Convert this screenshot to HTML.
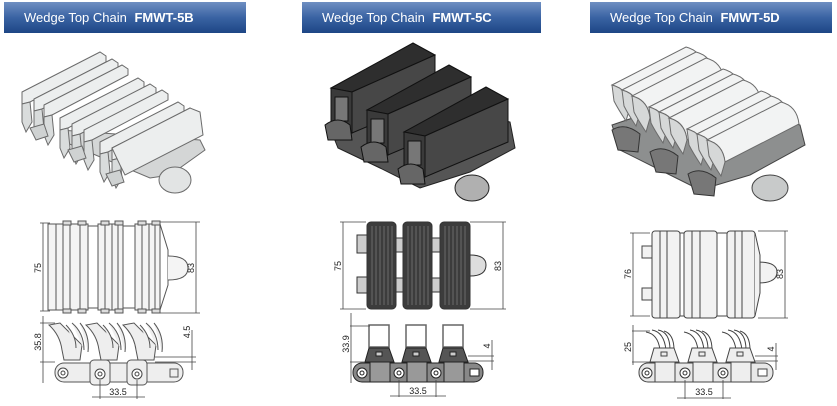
<!DOCTYPE html>
<html><head><meta charset="utf-8"><style>
html,body{margin:0;padding:0;background:#fff;}
svg{display:block;}
text{font-family:"Liberation Sans",sans-serif;}
</style></head><body>
<svg width="837" height="406" viewBox="0 0 837 406" xmlns="http://www.w3.org/2000/svg">
<defs>
<linearGradient id="hb" x1="0" y1="0" x2="0" y2="1">
<stop offset="0" stop-color="#6f8fc2"/><stop offset="0.5" stop-color="#3a63a3"/><stop offset="1" stop-color="#1d4685"/>
</linearGradient>
<g id="blade">
<polygon points="0,0 78,-40 84,-36 84,-30 8,10 0,12" fill="#eceeee" stroke="#6b6b6b" stroke-width="1"/>
<polygon points="0,12 8,10 10,30 4,40 0,30" fill="#d9dcdc" stroke="#6b6b6b" stroke-width="1"/>
</g>
<g id="rblade">
<path d="M0,6 L74,-32 Q90,-28 92,-10 L18,28 Q16,10 0,6Z" fill="#f2f3f3" stroke="#6b6b6b" stroke-width="1"/>
<path d="M0,6 Q16,10 18,28 L14,42 Q6,30 2,22Z" fill="#d6d8d8" stroke="#6b6b6b" stroke-width="1"/>
</g>
</defs>

<rect x="4" y="2" width="242" height="31" fill="url(#hb)"/>
<text x="24" y="22" font-size="13" fill="#fff">Wedge Top Chain <tspan font-weight="bold" dx="4">FMWT-5B</tspan></text>
<rect x="302" y="2" width="239" height="31" fill="url(#hb)"/>
<text x="322" y="22" font-size="13" fill="#fff">Wedge Top Chain <tspan font-weight="bold" dx="4">FMWT-5C</tspan></text>
<rect x="590" y="2" width="242" height="31" fill="url(#hb)"/>
<text x="610" y="22" font-size="13" fill="#fff">Wedge Top Chain <tspan font-weight="bold" dx="4">FMWT-5D</tspan></text>

<!-- Panel 1 iso -->
<g stroke="#6b6b6b" fill="#d4d6d6">
<polygon points="60,130 200,140 205,150 170,175 150,178 60,140"/>
<ellipse cx="175" cy="180" rx="16" ry="13" fill="#e2e4e4"/>
</g>
<use href="#blade" x="22" y="92"/>
<use href="#blade" x="34" y="99"/>
<use href="#blade" x="44" y="105"/>
<use href="#blade" x="60" y="118"/>
<use href="#blade" x="72" y="124"/>
<use href="#blade" x="84" y="130"/>
<use href="#blade" x="100" y="142"/>
<use href="#blade" x="112" y="148"/>
<polygon points="112,148 190,108 200,112 203,135 125,175 120,165" fill="#eceeee" stroke="#6b6b6b"/>
<g fill="#cfd2d2" stroke="#6b6b6b">
<polygon points="30,128 44,124 48,136 36,140"/>
<polygon points="68,150 82,146 86,158 74,162"/>
<polygon points="106,174 120,170 124,182 112,186"/>
</g>

<!-- Panel 2 iso -->
<g stroke="#222" fill="#555">
<polygon points="330,128 420,100 510,122 515,148 470,172 420,188 380,168 338,148"/>
<ellipse cx="472" cy="188" rx="17" ry="13" fill="#b0b0b0"/>
</g>
<g id="blk">
<polygon points="331,88 413,43 435,55 352,92" fill="#2e2e2e" stroke="#111"/>
<polygon points="352,92 435,55 435,98 352,133" fill="#474747" stroke="#111"/>
<polygon points="331,88 352,92 352,133 331,125" fill="#3a3a3a" stroke="#111"/>
<rect x="335" y="97" width="13" height="24" fill="#777" stroke="#111"/>
<path d="M325,125 Q338,115 350,125 L352,140 L328,140Z" fill="#666" stroke="#111"/>
</g>
<use href="#blk" x="36" y="22"/>
<use href="#blk" x="73" y="44"/>

<!-- Panel 3 iso -->
<g stroke="#444" fill="#8d8f8f">
<polygon points="612,125 700,95 800,125 805,145 750,175 700,190 660,170 620,150"/>
<ellipse cx="770" cy="188" rx="18" ry="13" fill="#c8caca"/>
</g>
<use href="#rblade" x="612" y="79"/>
<use href="#rblade" x="622" y="84"/>
<use href="#rblade" x="632" y="90"/>
<use href="#rblade" x="649" y="101"/>
<use href="#rblade" x="659" y="106"/>
<use href="#rblade" x="669" y="112"/>
<use href="#rblade" x="687" y="123"/>
<use href="#rblade" x="697" y="128"/>
<use href="#rblade" x="707" y="134"/>
<g fill="#777" stroke="#333">
<path d="M612,130 Q625,122 640,134 L638,152 L618,150Z"/>
<path d="M650,152 Q663,144 678,156 L676,174 L656,172Z"/>
<path d="M688,174 Q701,166 716,178 L714,196 L694,194Z"/>
</g>

<!-- top views -->
<g stroke="#555" stroke-width="1" fill="none">
<rect x="48" y="224" width="40" height="86" fill="#f4f4f4"/>
<rect x="98" y="224" width="25" height="86" fill="#f4f4f4"/>
<rect x="135" y="224" width="25" height="86" fill="#f4f4f4"/>
<path d="M88,226 H98 M88,308 H98 M123,226 H135 M123,308 H135"/>
<path d="M160,224 L168,250 V285 L160,310"/>
<path d="M168,256 Q188,256 188,268 Q188,280 168,280" fill="#f4f4f4"/>
<path d="M56,224 V310 M63,224 V310 M70,224 V310 M80,224 V310 M105,224 V310 M112,224 V310 M118,224 V310 M142,224 V310 M149,224 V310 M155,224 V310"/>
<rect x="63" y="221" width="8" height="4" fill="#ddd"/><rect x="78" y="221" width="8" height="4" fill="#ddd"/>
<rect x="101" y="221" width="8" height="4" fill="#ddd"/><rect x="115" y="221" width="8" height="4" fill="#ddd"/>
<rect x="138" y="221" width="8" height="4" fill="#ddd"/><rect x="152" y="221" width="8" height="4" fill="#ddd"/>
<rect x="63" y="309" width="8" height="4" fill="#ddd"/><rect x="78" y="309" width="8" height="4" fill="#ddd"/>
<rect x="101" y="309" width="8" height="4" fill="#ddd"/><rect x="115" y="309" width="8" height="4" fill="#ddd"/>
<rect x="138" y="309" width="8" height="4" fill="#ddd"/><rect x="152" y="309" width="8" height="4" fill="#ddd"/>
</g>
<g stroke="#444" stroke-width="0.8" fill="none">
<path d="M43,223 V311 M40,223 H50 M40,311 H50"/>
<path d="M196,222 V313 M160,222 H200 M160,313 H200"/>
</g>
<text transform="translate(41,268) rotate(-90)" font-size="9" fill="#222" text-anchor="middle">75</text>
<text transform="translate(194,268) rotate(-90)" font-size="9" fill="#222" text-anchor="middle">83</text>

<g stroke="#333" stroke-width="1">
<rect x="357" y="235" width="10" height="18" fill="#ccc"/><rect x="357" y="277" width="10" height="16" fill="#ccc"/>
<rect x="396" y="238" width="8" height="14" fill="#ccc"/><rect x="396" y="278" width="8" height="14" fill="#ccc"/>
<rect x="432" y="238" width="8" height="14" fill="#ccc"/><rect x="432" y="278" width="8" height="14" fill="#ccc"/>
<path d="M470,255 Q486,255 486,265 Q486,276 470,276" fill="#ddd"/>
<rect x="367" y="222" width="29" height="87" rx="4" fill="#3c3c3c"/>
<rect x="403" y="222" width="29" height="87" rx="4" fill="#3c3c3c"/>
<rect x="440" y="222" width="30" height="87" rx="4" fill="#3c3c3c"/>
</g>
<g stroke="#777" stroke-width="0.8">
<path d="M372,226 V305 M376,226 V305 M380,226 V305 M384,226 V305 M388,226 V305 M392,226 V305"/>
<path d="M408,226 V305 M412,226 V305 M416,226 V305 M420,226 V305 M424,226 V305 M428,226 V305"/>
<path d="M445,226 V305 M449,226 V305 M453,226 V305 M457,226 V305 M461,226 V305 M465,226 V305"/>
</g>
<g stroke="#444" stroke-width="0.8" fill="none">
<path d="M343,222 V309 M340,222 H366 M340,309 H366"/>
<path d="M503,222 V309 M470,222 H506 M470,309 H506"/>
</g>
<text transform="translate(341,266) rotate(-90)" font-size="9" fill="#222" text-anchor="middle">75</text>
<text transform="translate(501,266) rotate(-90)" font-size="9" fill="#222" text-anchor="middle">83</text>

<g stroke="#444" stroke-width="1" fill="#f2f2f2">
<rect x="642" y="246" width="10" height="12"/><rect x="642" y="288" width="10" height="12"/>
<path d="M758,262 Q777,262 777,272 Q777,283 758,283"/>
<rect x="652" y="231" width="28" height="87" rx="3"/>
<rect x="684" y="231" width="33" height="87" rx="3"/>
<rect x="727" y="231" width="28" height="87" rx="3"/>
<path d="M755,233 L760,255 V293 L755,316"/>
<path d="M660,231 V318 M667,231 V318 M692,231 V318 M700,231 V318 M735,231 V318 M742,231 V318"/>
<path d="M680,233 H684 M680,316 H684 M717,233 H727 M717,316 H727" fill="none"/>
</g>
<g stroke="#444" stroke-width="0.8" fill="none">
<path d="M633,233 V316 M630,233 H650 M630,316 H650"/>
<path d="M785,231 V318 M758,231 H788 M758,318 H788"/>
</g>
<text transform="translate(631,274) rotate(-90)" font-size="9" fill="#222" text-anchor="middle">76</text>
<text transform="translate(783,274) rotate(-90)" font-size="9" fill="#222" text-anchor="middle">83</text>

<!-- side views -->
<g stroke="#555" stroke-width="1" fill="#eee">
<path d="M49,325 Q60,335 62,350 L64,360 H80 L82,345 Q72,335 60,323Z"/>
<path d="M66,325 Q76,335 76,348 M72,323 Q84,333 84,350 M80,323 Q90,335 88,352"/>
<path d="M86,325 Q97,335 99,350 L101,360 H117 L119,345 Q109,335 97,323Z"/>
<path d="M103,325 Q113,335 113,348 M109,323 Q121,333 121,350 M117,323 Q127,335 125,352"/>
<path d="M123,325 Q134,335 136,350 L138,360 H154 L156,345 Q146,335 134,323Z"/>
<path d="M140,325 Q150,335 150,348 M146,323 Q158,333 158,350 M154,323 Q164,335 162,352"/>
<rect x="55" y="363" width="128" height="19" rx="9"/>
<rect x="90" y="360" width="20" height="25" rx="4"/><rect x="127" y="360" width="20" height="25" rx="4"/>
<rect x="170" y="369" width="8" height="8"/>
</g>
<g stroke="#444" fill="#fff"><circle cx="63" cy="373" r="5"/><circle cx="100" cy="374" r="5"/><circle cx="137" cy="374" r="5"/>
<circle cx="63" cy="373" r="2"/><circle cx="100" cy="374" r="2"/><circle cx="137" cy="374" r="2"/></g>
<g stroke="#444" stroke-width="0.8" fill="none">
<path d="M43,316 V383 M40,323 H55 M40,362 H55"/>
<path d="M192,330 V370 M155,357 H196 M155,362 H196"/>
<path d="M100,380 V399 M137,380 V399 M92,397 H145"/>
</g>
<text transform="translate(41,342) rotate(-90)" font-size="9" fill="#222" text-anchor="middle">35.8</text>
<text transform="translate(190,332) rotate(-90)" font-size="9" fill="#222" text-anchor="middle">4.5</text>
<text x="118" y="395" font-size="9" fill="#222" text-anchor="middle">33.5</text>

<g stroke="#222" stroke-width="1">
<rect x="369" y="325" width="20" height="22" fill="none" stroke="#666" stroke-width="1.5"/>
<rect x="406" y="325" width="20" height="22" fill="none" stroke="#666" stroke-width="1.5"/>
<rect x="443" y="325" width="20" height="22" fill="none" stroke="#666" stroke-width="1.5"/>
<rect x="353" y="363" width="130" height="19" rx="9" fill="#888"/>
<path d="M365,362 L369,348 H389 L394,362Z" fill="#555"/>
<path d="M402,362 L406,348 H426 L431,362Z" fill="#555"/>
<path d="M439,362 L443,348 H463 L468,362Z" fill="#555"/>
<rect x="370" y="362" width="20" height="20" fill="#999"/><rect x="407" y="362" width="20" height="20" fill="#999"/><rect x="444" y="362" width="20" height="20" fill="#999"/>
<rect x="470" y="369" width="9" height="7" fill="#fff"/>
<rect x="376" y="352" width="6" height="4" fill="#ccc"/><rect x="413" y="352" width="6" height="4" fill="#ccc"/><rect x="450" y="352" width="6" height="4" fill="#ccc"/>
</g>
<g stroke="#222" fill="#fff"><circle cx="362" cy="373" r="5"/><circle cx="399" cy="373" r="5"/><circle cx="436" cy="373" r="5"/>
<circle cx="362" cy="373" r="2"/><circle cx="399" cy="373" r="2"/><circle cx="436" cy="373" r="2"/></g>
<g stroke="#444" stroke-width="0.8" fill="none">
<path d="M351,313 V383 M350,326 H370 M350,362 H365"/>
<path d="M492,340 V370 M468,356 H494 M468,361 H494"/>
<path d="M399,380 V397 M436,380 V397 M390,396 H446"/>
</g>
<text transform="translate(349,344) rotate(-90)" font-size="9" fill="#222" text-anchor="middle">33.9</text>
<text transform="translate(490,346) rotate(-90)" font-size="9" fill="#222" text-anchor="middle">4</text>
<text x="418" y="394" font-size="9" fill="#222" text-anchor="middle">33.5</text>

<g stroke="#444" stroke-width="1" fill="none">
<path d="M646,332 Q658,334 660,350 M652,330 Q664,332 666,350 M658,330 Q670,332 670,350 M664,331 Q674,334 674,350"/>
<path d="M684,332 Q696,334 698,350 M690,330 Q702,332 704,350 M696,330 Q708,332 708,350 M702,331 Q712,334 712,350"/>
<path d="M722,332 Q734,334 736,350 M728,330 Q740,332 742,350 M734,330 Q746,332 746,350 M740,331 Q750,334 750,350"/>
<rect x="639" y="363" width="134" height="19" rx="9" fill="#e8e8e8"/>
<path d="M650,362 L654,348 H674 L679,362Z" fill="#eee"/>
<path d="M688,362 L692,348 H712 L717,362Z" fill="#eee"/>
<path d="M726,362 L730,348 H750 L755,362Z" fill="#eee"/>
<rect x="655" y="362" width="20" height="20" fill="#eee"/><rect x="693" y="362" width="20" height="20" fill="#eee"/><rect x="731" y="362" width="20" height="20" fill="#eee"/>
<rect x="758" y="369" width="9" height="7" fill="#fff"/>
<rect x="661" y="352" width="6" height="4"/><rect x="699" y="352" width="6" height="4"/><rect x="737" y="352" width="6" height="4"/>
</g>
<g stroke="#333" fill="#fff"><circle cx="647" cy="373" r="5"/><circle cx="685" cy="373" r="5"/><circle cx="723" cy="373" r="5"/>
<circle cx="647" cy="373" r="2"/><circle cx="685" cy="373" r="2"/><circle cx="723" cy="373" r="2"/></g>
<g stroke="#444" stroke-width="0.8" fill="none">
<path d="M633,325 V365 M632,331 H650 M632,362 H650"/>
<path d="M776,343 V370 M755,356 H778 M755,361 H778"/>
<path d="M685,380 V399 M723,380 V399 M677,398 H731"/>
</g>
<text transform="translate(631,347) rotate(-90)" font-size="9" fill="#222" text-anchor="middle">25</text>
<text transform="translate(774,349) rotate(-90)" font-size="9" fill="#222" text-anchor="middle">4</text>
<text x="704" y="395" font-size="9" fill="#222" text-anchor="middle">33.5</text>
</svg>
</body></html>
